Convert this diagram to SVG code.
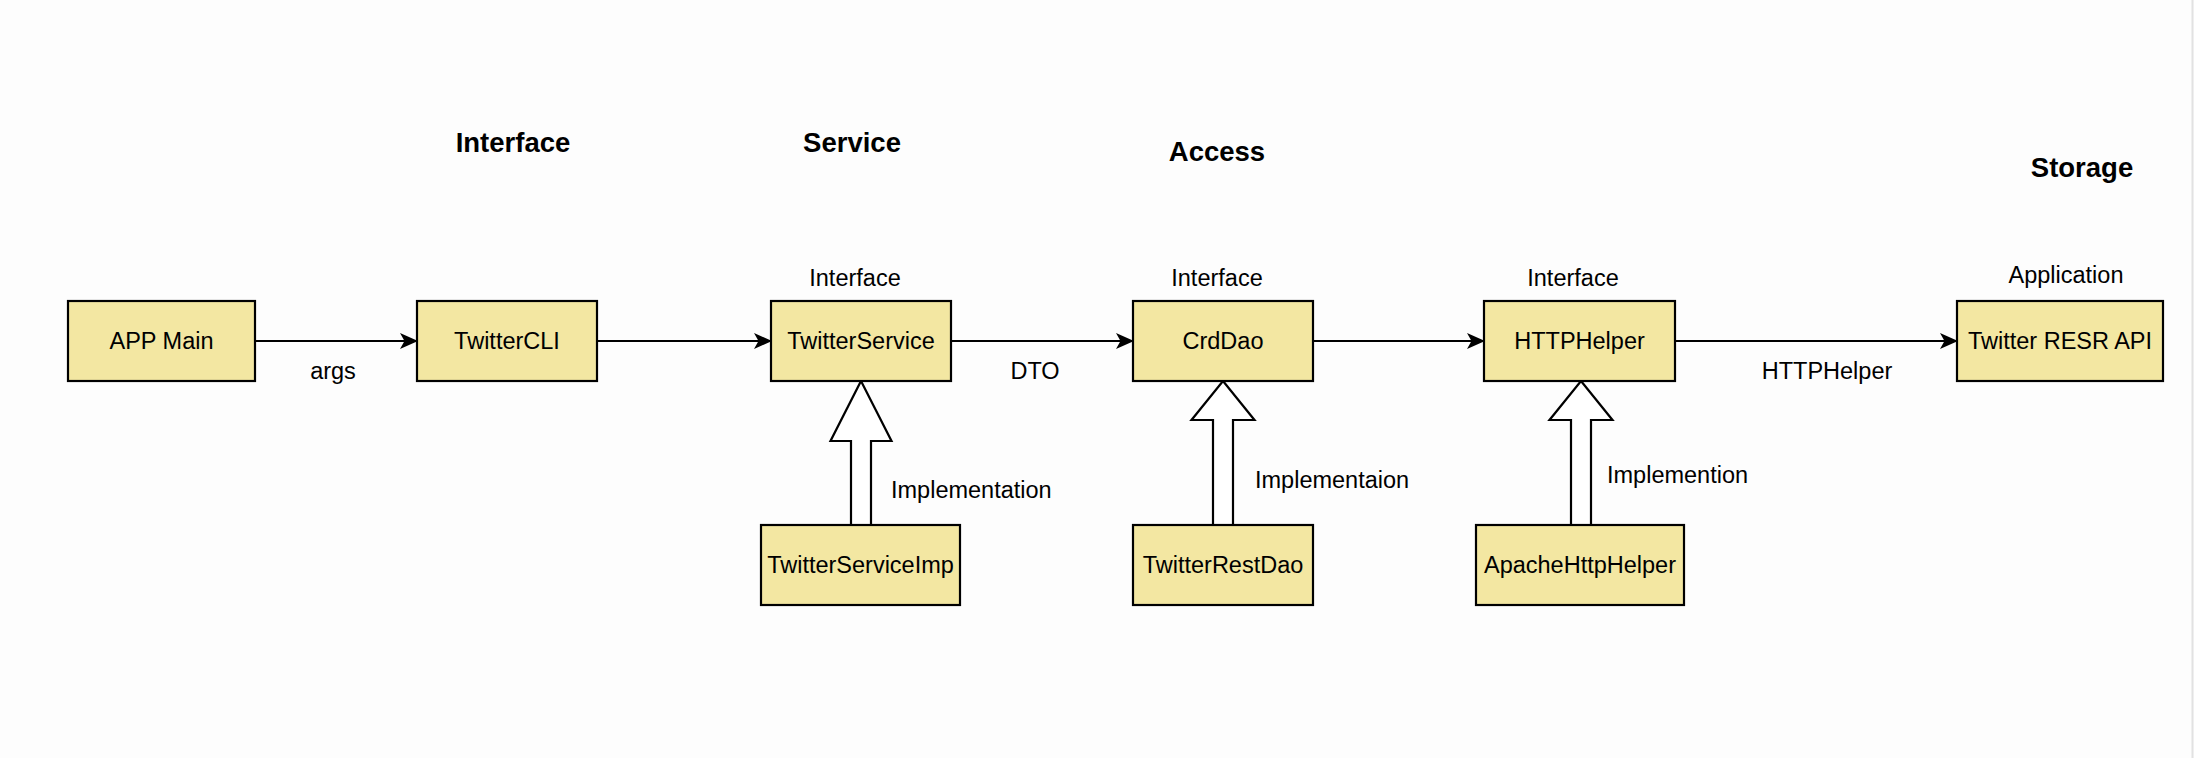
<svg xmlns="http://www.w3.org/2000/svg" width="2194" height="758" viewBox="0 0 2194 758">
<style>
.box{fill:#f3e7a2;stroke:#000;stroke-width:2.2}
.t{font-family:"Liberation Sans",Arial,sans-serif;font-size:23.5px;fill:#000}
.h{font-family:"Liberation Sans",Arial,sans-serif;font-size:27.5px;font-weight:bold;fill:#000}
.c{text-anchor:middle}
.edge{stroke:#000;stroke-width:2.2;fill:none}
.impl{fill:#fff;stroke:#000;stroke-width:2.2;stroke-linejoin:miter}
</style>
<defs>
<marker id="arr" markerUnits="userSpaceOnUse" markerWidth="20" markerHeight="18" refX="17" refY="8" orient="auto">
<path d="M0,0 L18,8 L0,16 L4.5,8 Z" fill="#000"/>
</marker>
</defs>
<rect x="0" y="0" width="2194" height="758" fill="#fdfdfd"/>
<line x1="2192.5" y1="0" x2="2192.5" y2="758" stroke="#e2e2e2" stroke-width="2"/>

<g id="headers">
<text class="h c" x="513" y="152">Interface</text>
<text class="h c" x="852" y="152">Service</text>
<text class="h c" x="1217" y="161">Access</text>
<text class="h c" x="2082" y="177">Storage</text>
</g>

<g id="connectors">
<line class="edge" x1="255" y1="341" x2="417" y2="341" marker-end="url(#arr)"/>
<line class="edge" x1="597" y1="341" x2="771" y2="341" marker-end="url(#arr)"/>
<line class="edge" x1="951" y1="341" x2="1133" y2="341" marker-end="url(#arr)"/>
<line class="edge" x1="1313" y1="341" x2="1484" y2="341" marker-end="url(#arr)"/>
<line class="edge" x1="1675" y1="341" x2="1957" y2="341" marker-end="url(#arr)"/>
<polygon class="impl" points="861,381 891.5,441 871,441 871,525 851,525 851,441 830.5,441"/>
<polygon class="impl" points="1223,381 1254.5,420 1233,420 1233,525 1213,525 1213,420 1191.5,420"/>
<polygon class="impl" points="1581,381 1612.5,420 1591,420 1591,525 1571,525 1571,420 1549.5,420"/>
<text class="t c" x="333" y="379">args</text>
<text class="t c" x="1035" y="379">DTO</text>
<text class="t c" x="1827" y="379">HTTPHelper</text>
<text class="t" x="891" y="498">Implementation</text>
<text class="t" x="1255" y="488">Implementaion</text>
<text class="t" x="1607" y="483">Implemention</text>
</g>

<g id="app-main">
<rect class="box" x="68" y="301" width="187" height="80"/>
<text class="t c" x="161.5" y="349">APP Main</text>
</g>
<g id="twitter-cli">
<rect class="box" x="417" y="301" width="180" height="80"/>
<text class="t c" x="507" y="349">TwitterCLI</text>
</g>
<g id="twitter-service">
<text class="t c" x="855" y="286">Interface</text>
<rect class="box" x="771" y="301" width="180" height="80"/>
<text class="t c" x="861" y="349">TwitterService</text>
</g>
<g id="crd-dao">
<text class="t c" x="1217" y="286">Interface</text>
<rect class="box" x="1133" y="301" width="180" height="80"/>
<text class="t c" x="1223" y="349">CrdDao</text>
</g>
<g id="http-helper">
<text class="t c" x="1573" y="286">Interface</text>
<rect class="box" x="1484" y="301" width="191" height="80"/>
<text class="t c" x="1579.5" y="349">HTTPHelper</text>
</g>
<g id="twitter-api">
<text class="t c" x="2066" y="283">Application</text>
<rect class="box" x="1957" y="301" width="206" height="80"/>
<text class="t c" x="2060" y="349">Twitter RESR API</text>
</g>
<g id="twitter-service-imp">
<rect class="box" x="761" y="525" width="199" height="80"/>
<text class="t c" x="860.5" y="573">TwitterServiceImp</text>
</g>
<g id="twitter-rest-dao">
<rect class="box" x="1133" y="525" width="180" height="80"/>
<text class="t c" x="1223" y="573">TwitterRestDao</text>
</g>
<g id="apache-http-helper">
<rect class="box" x="1476" y="525" width="208" height="80"/>
<text class="t c" x="1580" y="573">ApacheHttpHelper</text>
</g>
</svg>
